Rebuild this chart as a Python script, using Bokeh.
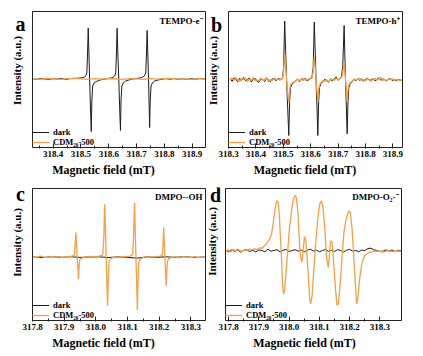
import math
from bokeh.plotting import figure
from bokeh.models import (Range1d, FixedTicker, PrintfTickFormatter, Label, Legend, LegendItem,
                          BoxAnnotation, Title)
from bokeh.layouts import column, row
from bokeh.embed import file_html
from bokeh.resources import INLINE

# ---------------- data (intensity in a.u.) ----------------
# Panel a: TEMPO-e-
a_dark_field = [318.326, 318.34, 318.355, 318.37, 318.385, 318.40, 318.415, 318.43, 318.445, 318.46,
                318.475, 318.49, 318.503, 318.512, 318.518, 318.521, 318.5235, 318.526, 318.5285, 318.531,
                318.534, 318.537, 318.539, 318.542, 318.547, 318.555, 318.567, 318.58, 318.595, 318.607,
                318.615, 318.621, 318.625, 318.6275, 318.630, 318.6325, 318.636, 318.639, 318.642, 318.644,
                318.647, 318.652, 318.66, 318.672, 318.685, 318.70, 318.712, 318.721, 318.728, 318.733,
                318.7355, 318.738, 318.7405, 318.743, 318.745, 318.747, 318.749, 318.752, 318.757, 318.765,
                318.777, 318.79, 318.805, 318.82, 318.835, 318.85, 318.865, 318.88, 318.895, 318.91,
                318.925, 318.948]
a_dark_int = [0.3, -0.4, 0.5, 0.0, -0.5, 0.4, -0.2, 0.6, -0.4, 0.3,
              0.6, 0.8, 1.2, 2.0, 3.5, 6.0, 25.0, 50.8, 26.0, 0.0,
              -28.0, -52.5, -22.0, -7.0, -4.0, -2.5, -1.2, -0.3, 0.4, 0.9,
              1.6, 3.0, 6.0, 25.0, 50.8, 26.0, 0.0, -28.0, -51.5, -22.0,
              -7.0, -4.0, -2.2, -1.0, 0.0, 0.5, 1.0, 1.8, 3.0, 6.0,
              24.0, 48.5, 24.0, 0.0, -24.0, -48.5, -22.0, -7.0, -3.8, -2.0,
              -1.0, -0.3, 0.4, -0.3, 0.5, -0.4, 0.3, -0.5, 0.4, -0.2,
              0.3, 0.2]
a_cdm_field = [318.326, 318.35, 318.375, 318.40, 318.425, 318.45, 318.475, 318.50, 318.525, 318.55,
               318.575, 318.60, 318.625, 318.65, 318.675, 318.70, 318.725, 318.75, 318.775, 318.80,
               318.825, 318.85, 318.875, 318.90, 318.925, 318.948]
a_cdm_int = [0.4, -0.3, 0.5, 0.1, -0.4, 0.3, 0.6, 0.2, -0.3, 0.4,
             -0.2, 0.5, 0.0, -0.5, 0.3, 0.1, -0.3, 0.4, -0.2, 0.3,
             0.5, -0.1, 0.2, -0.4, 0.3, 0.0]

# Panel b: TEMPO-h+
b_field = [318.306, 318.313, 318.320, 318.327, 318.334, 318.341, 318.348, 318.355, 318.362, 318.369,
           318.376, 318.383, 318.390, 318.397, 318.404, 318.411, 318.418, 318.425, 318.432, 318.439,
           318.446, 318.453, 318.460, 318.467, 318.474, 318.481, 318.488, 318.495,
           318.497, 318.501, 318.505, 318.5085, 318.512, 318.516, 318.520, 318.523, 318.526, 318.531,
           318.538, 318.545, 318.552, 318.559, 318.566, 318.573, 318.580, 318.587, 318.594, 318.600,
           318.604, 318.609, 318.613, 318.6165, 318.6195, 318.623, 318.626, 318.629, 318.632, 318.637,
           318.644, 318.651, 318.658, 318.665, 318.672, 318.679, 318.686, 318.693, 318.700, 318.707,
           318.712, 318.717, 318.722, 318.7245, 318.727, 318.730, 318.733, 318.736, 318.739, 318.744,
           318.751, 318.758, 318.765, 318.772, 318.779, 318.786, 318.793, 318.800, 318.807, 318.814,
           318.821, 318.828, 318.835, 318.842, 318.849, 318.856, 318.863, 318.870, 318.877, 318.884,
           318.891, 318.898, 318.905, 318.912, 318.919, 318.926, 318.935]
b_dark_int = [1, -1.5, 2, 0.5, -2, 1.5, -0.5, 2.5, -1, 0,
              1.8, -2.2, 0.5, 1.5, -1.5, -2.5, 1, 0.3, -1.8, 2,
              -0.5, -2, 1.2, 0.5, -1, 1.5, 0.5, 1,
              1, 12, 58.7, 29, 0, -28, -55.7, -22, -8, -5,
              -2.5, -1, 0.5, -2, 1, -0.5, 1.5, -1, 0.5, 1.5,
              2, 12, 57.7, 28, 0, -28, -55.7, -22, -8, -4,
              -2, 0.5, -1, -2.5, 0.5, -1, 1, 3, -0.5, 1.5,
              3, 14, 54.3, 26, 0, -26, -54, -22, -8, -4,
              -2, 0.5, -1, 1, -0.5, 0.8, -1.5, 0.5, 1.5, -0.5,
              0, 1, -1, 0.5, 2, -0.5, 1, 0, -1, 0.5,
              1.2, -0.8, 0.3, -1, 0.5, -0.5, 0]
b_cdm_int = [0.5, 1.5, -0.5, 2, 0, -1.5, 1, 0.5, 2, -1.8,
             0.5, -0.5, 2.2, -0.8, 0, -1.5, 2, -0.5, 0.5, 1.5,
             -2, 0.5, -1, 1.8, 0, 0.8, -0.5, 1.5,
             1.5, 8, 26, 13, 0, -13, -23, -11, -5, -3.5,
             -2, -1.5, 1, -1, 0, 1.5, -0.5, 0.5, 1, 2,
             2, 8, 22.7, 12, 0, -12, -22, -10, -5, -3,
             -1, -1.5, 0, -2, 1, 0.5, -0.5, 1.5, 0.5, 1,
             2, 7, 17.7, 9, 0, -11, -22, -10, -5, -3,
             -1.5, 1, 0, 0.5, 1.5, -0.5, 0.5, -1, 1, 0.5,
             -1.5, 0.5, 1.5, -0.5, 1, 2.5, -0.5, 0.5, -1, 1,
             0, 1, -0.5, 0.5, 0, -1, 0.5]

# Panel c: DMPO-.OH
c_dark_field = [317.800, 317.83, 317.86, 317.89, 317.92, 317.95, 317.98, 318.01, 318.04, 318.07,
                318.10, 318.13, 318.16, 318.19, 318.22, 318.25, 318.28, 318.31, 318.346]
c_dark_int = [0.2, -0.4, 0.3, -0.2, 0.4, -0.3, 0.1, 0.3, -0.4, 0.2,
              -0.3, -1.0, 0.2, -0.3, 0.3, -0.2, 0.4, -0.3, 0.1]
c_cdm_field = [317.800, 317.812, 317.824, 317.836, 317.848, 317.860, 317.872, 317.884, 317.896, 317.908,
               317.920, 317.928,
               317.932, 317.934, 317.937, 317.939, 317.941, 317.943, 317.945, 317.947, 317.949, 317.953,
               317.960, 317.970, 317.980, 317.990, 318.000, 318.010, 318.019,
               318.022, 318.025, 318.028, 318.030, 318.0325, 318.035, 318.037, 318.039, 318.041, 318.045, 318.050,
               318.060, 318.070, 318.080, 318.090, 318.100, 318.108, 318.113,
               318.116, 318.119, 318.122, 318.124, 318.1265, 318.129, 318.131, 318.133, 318.135, 318.139, 318.145,
               318.155, 318.165, 318.175, 318.185, 318.195, 318.203, 318.208,
               318.210, 318.212, 318.214, 318.216, 318.218, 318.220, 318.222, 318.224, 318.226, 318.230,
               318.240, 318.252, 318.264, 318.276, 318.288, 318.300, 318.312, 318.324, 318.336, 318.346]
c_cdm_int = [0.5, -0.8, 1.0, 0.0, -0.5, 0.8, -0.3, 0.6, -0.6, 0.4,
             0.5, 1.5,
             2, 10, 25, 12, 0, -10, -22.4, -10, -3, -1.5,
             -0.5, 0.6, -0.3, 0.8, 0.2, 1.0, 1.8,
             3, 20, 53.3, 30, 0, -30, -49, -22, -6, -2.5, -1,
             0.3, -0.5, 0.6, 0.2, 0.8, 1.0, 1.8,
             3, 20, 55, 30, 0, -30, -53.4, -24, -6, -2.5, -1,
             0.4, -0.4, 0.5, 0.2, 0.6, 1.0, 1.8,
             3, 12, 30, 15, 0, -15, -29, -13, -4, -1.5,
             -0.3, 0.6, -0.8, 0.4, 0.0, -0.6, 0.5, -0.4, 0.3, -0.5]

# Panel d: DMPO-O2.-
d_dark_field = [317.79, 317.80, 317.81, 317.82, 317.83, 317.84, 317.85, 317.86, 317.87, 317.88,
                317.89, 317.90, 317.91, 317.92, 317.93, 317.94, 317.95, 317.96, 317.97, 317.98,
                317.99, 318.00, 318.01, 318.02, 318.03, 318.04, 318.05, 318.06, 318.07, 318.08,
                318.09, 318.10, 318.11, 318.12, 318.13, 318.14, 318.15, 318.16, 318.17, 318.18,
                318.19, 318.20, 318.21, 318.22, 318.23, 318.24, 318.25, 318.26, 318.27, 318.28,
                318.29, 318.30, 318.31, 318.32, 318.33, 318.34, 318.35, 318.36, 318.37]
d_dark_int = [0.5, -1, 0.8, -0.5, 1.2, -1.5, 0.3, 1, -0.8, 0.5,
              -1.2, 0.8, 0.2, -1, 1.5, -0.5, 0.3, 1, -1.2, 0.5,
              1.2, -0.8, 0.2, 1, -0.5, 0.8, -1.2, 0.5, 1.5, -0.3,
              0.6, -1, 0.2, 1.2, -0.6, 0.4, -0.8, 1, 0.3, -1.2,
              0.6, 1.3, -0.4, 0.2, -1, 0.7, 0.1, 2.2, 2.5, 0.8,
              0.3, -0.6, -0.5, 0.8, -0.3, 0.6, -0.9, 0.4, 0]
d_cdm_field = [317.790, 317.799, 317.808, 317.816, 317.825, 317.834, 317.843, 317.852, 317.860, 317.869,
               317.878, 317.887, 317.896, 317.904, 317.911, 317.918, 317.924, 317.929, 317.933, 317.937,
               317.942, 317.947, 317.953, 317.957, 317.960, 317.964, 317.968, 317.971, 317.975, 317.978,
               317.981, 317.985, 317.989, 317.995, 318.001, 318.008, 318.014, 318.020, 318.024, 318.029,
               318.033, 318.037, 318.042, 318.046, 318.051, 318.055, 318.059, 318.064, 318.068, 318.071,
               318.076, 318.081, 318.088, 318.095, 318.101, 318.107, 318.112, 318.118, 318.123, 318.129,
               318.133, 318.137, 318.142, 318.147, 318.153, 318.158, 318.163, 318.168, 318.175, 318.181,
               318.189, 318.197, 318.202, 318.208, 318.213, 318.219, 318.223, 318.227, 318.234, 318.241,
               318.249, 318.260, 318.277, 318.293, 318.310, 318.326, 318.343, 318.359, 318.371]
d_cdm_int = [0, 0.7, -1, 1.3, -0.3, 1, -0.7, 0.7, 0.3, 1.7,
             0.7, 2, 1.3, 3, 2.3, 5, 6.3, 9, 10.7, 12.3,
             16.7, 26.7, 40, 47.7, 50, 48.3, 35, 15, -8.3, -31.7,
             -43.3, -40, -25, -1.7, 21.7, 40, 51.7, 55.7, 53.3, 38.3,
             15, -5, -11.7, 0, 14.3, 10, -5, -28.3, -48.3, -53.3,
             -45, -21.7, 8.3, 33.3, 46.7, 50, 43.3, 21.7, -5, -16.7,
             -5, 10, 8.3, -11.7, -38.3, -54.3, -53.3, -35, -5, 18.3,
             33.3, 40, 38.3, 21.7, -5, -35, -53.3, -46.7, -25, -11.7,
             -5, -2.3, -1, -0.3, -1.3, 0, -1, -0.3, -0.7]

# tick positions
a_ticks = [318.4, 318.5, 318.6, 318.7, 318.8, 318.9]
b_ticks = [318.3, 318.4, 318.5, 318.6, 318.7, 318.8, 318.9]
cd_ticks = [317.8, 317.9, 318.0, 318.1, 318.2, 318.3]
a_minor = [318.35, 318.45, 318.55, 318.65, 318.75, 318.85]
b_minor = [318.35, 318.45, 318.55, 318.65, 318.75, 318.85]
cd_minor = [317.85, 317.95, 318.05, 318.15, 318.25]

legend_labels = ["dark", "CDM\u2082\u2080-500"]
panel_tags = ["TEMPO-e\u207b", "TEMPO-h\u207a", "DMPO-\u00b7OH", "DMPO-O\u2082\u00b7\u207b"]
panel_letters = ["a", "b", "c", "d"]
y_title = "Intensity (a.u.)"
x_title = "Magnetic field (mT)"

# ---------------- styling ----------------
SERIF = "Liberation Serif"
DARK = "#1c1c1c"
ORANGE = "#F5A045"
EDGE = "#222222"


def make_panel(W, H, box_px, frame_px, xr, yr, ticks, minor, dark, cdm, letter, letter_off,
               tag, ylab_off):
    bl, br, bt, bb = box_px          # box (axes rectangle) in canvas pixels
    fr, ft, fb = frame_px            # frame right/top/bottom (frame starts at x=0)
    sx = (xr[1] - xr[0]) / (br - bl)
    sy = (yr[1] - yr[0]) / (bb - bt)
    x_range = Range1d(xr[0] - bl * sx, xr[1] + (fr - br) * sx)
    y_range = Range1d(yr[0] - (fb - bb) * sy, yr[1] + (bt - ft) * sy)
    p = figure(width=W, height=H, x_range=x_range, y_range=y_range,
               output_backend="svg", toolbar_location=None,
               min_border_left=0, min_border_right=W - fr,
               min_border_top=ft, min_border_bottom=H - fb)
    p.background_fill_color = "white"
    p.border_fill_color = "white"
    p.outline_line_color = None
    p.grid.visible = False
    p.yaxis.visible = False

    ax = p.xaxis[0]
    ax.ticker = FixedTicker(ticks=ticks, minor_ticks=minor)
    ax.formatter = PrintfTickFormatter(format="%.1f")
    ax.major_tick_in = 5
    ax.major_tick_out = 0
    ax.minor_tick_in = 3
    ax.minor_tick_out = 0
    ax.major_tick_line_color = EDGE
    ax.minor_tick_line_color = EDGE
    ax.axis_line_color = None
    ax.major_label_standoff = 2
    ax.major_label_text_font = SERIF
    ax.major_label_text_font_size = "9px"
    ax.major_label_text_font_style = "bold"
    ax.major_label_text_color = "black"

    p.add_layout(Title(text=x_title, align="center", offset=(bl + br) / 2 - fr / 2, standoff=2,
                       text_font=SERIF, text_font_size="12px", text_font_style="bold",
                       text_color="black"), "below")

    r_dark = p.line(dark[0], dark[1], line_color=DARK, line_width=1.0)
    r_cdm = p.line(cdm[0], cdm[1], line_color=ORANGE, line_width=1.3)

    p.add_layout(BoxAnnotation(left=xr[0], right=xr[1], bottom=yr[0], top=yr[1],
                               fill_alpha=0, fill_color=None, line_color=EDGE, line_width=1,
                               line_alpha=1))

    legend = Legend(items=[LegendItem(label=legend_labels[0], renderers=[r_dark]),
                           LegendItem(label=legend_labels[1], renderers=[r_cdm])],
                    location=(bl, fb - bb), margin=0, padding=0, spacing=0,
                    glyph_width=17, glyph_height=10, label_height=10, label_standoff=4,
                    label_text_font=SERIF, label_text_font_size="8.5px",
                    label_text_font_style="bold", label_text_color="black",
                    background_fill_alpha=0, border_line_alpha=0)
    p.add_layout(legend)

    p.add_layout(Label(x=xr[1], y=yr[1], x_offset=-3, y_offset=-4, text=tag,
                       text_align="right", text_baseline="top", text_font=SERIF,
                       text_font_size="9px", text_font_style="bold", text_color="black"))
    p.add_layout(Label(x=xr[0], y=yr[1], x_offset=letter_off[0], y_offset=letter_off[1], text=letter,
                       text_align="center", text_baseline="alphabetic", text_font=SERIF,
                       text_font_size="20px", text_font_style="bold", text_color="black"))
    p.add_layout(Label(x=xr[0], y=yr[1], x_offset=ylab_off[0], y_offset=ylab_off[1], text=y_title,
                       angle=math.pi / 2, text_align="center", text_baseline="bottom",
                       text_font=SERIF, text_font_size="11px", text_font_style="bold",
                       text_color="black"))
    return p


pa = make_panel(206, 182, (32, 205, 11, 147), (206, 10, 148), (318.3255, 318.948), (-68.5, 67.5),
                a_ticks, a_minor, (a_dark_field, a_dark_int), (a_cdm_field, a_cdm_int),
                panel_letters[0], (-12, -12.5), panel_tags[0], (-10, -59))
pb = make_panel(217, 182, (22, 196, 11, 147), (197, 10, 148), (318.300, 318.935), (-67.7, 68.3),
                b_ticks, b_minor, (b_field, b_dark_int), (b_field, b_cdm_int),
                panel_letters[1], (-12, -13.5), panel_tags[1], (-10, -59))
pc = make_panel(206, 174, (32, 205, 6, 139), (206, 5, 140), (317.800, 318.346), (-64.0, 69.3),
                cd_ticks, cd_minor, (c_dark_field, c_dark_int), (c_cdm_field, c_cdm_int),
                panel_letters[2], (-12, -6), panel_tags[2], (-10, -54))
pd = make_panel(217, 174, (19, 195, 5, 138), (196, 4, 139), (317.790, 318.371), (-70.0, 62.4),
                cd_ticks, cd_minor, (d_dark_field, d_dark_int), (d_cdm_field, d_cdm_int),
                panel_letters[3], (-10, -6.5), panel_tags[3], (-8, -53))

layout = column(row(pa, pb), row(pc, pd))
open("out.html", "w").write(file_html(layout, INLINE))
